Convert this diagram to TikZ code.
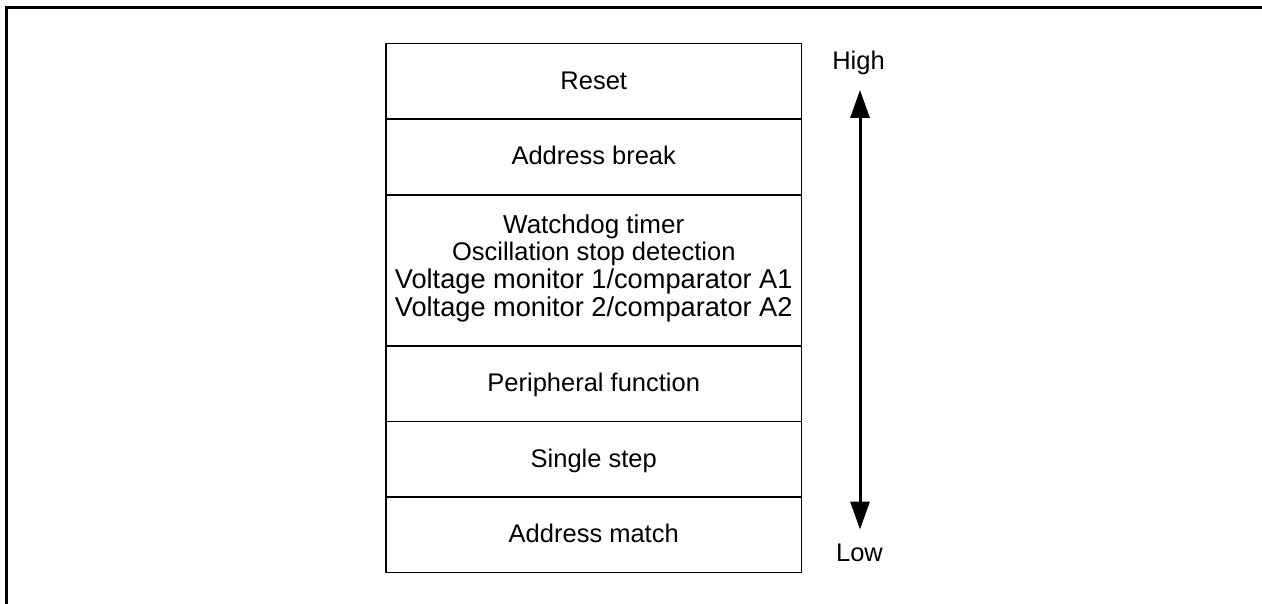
\documentclass[tikz,border=0pt]{standalone}
\usepackage{fontspec}
\setmainfont{Liberation Sans}
\usetikzlibrary{arrows.meta}
\newcommand{\widerline}[1]{{\fontsize{27.2}{27.6}\selectfont #1}}
\begin{document}
\begin{tikzpicture}[x=1pt,y=-1pt,
  every node/.style={font=\fontsize{25.5}{27.6}\selectfont},
  rowbox/.style={draw, line width=1.6pt, rectangle, inner sep=0pt, outer sep=0pt,
    minimum width=415.5pt, text height=18pt, text depth=2pt},
  multibox/.style={draw, line width=1.6pt, rectangle, inner sep=0pt, outer sep=0pt,
    minimum width=415.5pt, align=center, text depth=10.5pt},
  frameline/.style={line width=3pt, line join=miter},
  prioarrow/.style={line width=3pt, >={Triangle[length=28pt,width=19pt]}, <->}]
\useasboundingbox (0,0) rectangle (1262,604);
% frame
\coordinate (fbl) at (6.5,604);
\coordinate (ftl) at (6.5,7.5);
\coordinate (ftr) at (1262,7.5);
\draw[frameline] (fbl) -- (ftl) -- (ftr);
% rows
\node[rowbox, minimum height=75.5pt] (reset)  at (593.75,81.25) {Reset};
\node[rowbox, minimum height=76pt]   (abreak) at (593.75,157) {Address break};
\node[multibox, minimum height=151pt] (wdt)   at (593.75,270.5)
  {{\fontsize{26}{27.6}\selectfont Watchdog timer}\\Oscillation stop detection\\\widerline{Voltage monitor 1/comparator A1}\\\widerline{Voltage monitor 2/comparator A2}};
\node[rowbox, minimum height=75.5pt] (periph) at (593.75,383.75) {Peripheral function};
\node[rowbox, minimum height=75.5pt] (sstep)  at (593.75,459.25) {Single step};
\node[rowbox, minimum height=75.5pt] (amatch) at (593.75,534.75) {Address match};
% priority arrow
\node[anchor=base] (high) at (858.5,70) {High};
\node[anchor=base] (low)  at (859.5,561.7) {Low};
\coordinate (atop) at (860,90);
\coordinate (abot) at (860,529.5);
\draw[prioarrow] (atop) -- (abot);
\end{tikzpicture}
\end{document}
